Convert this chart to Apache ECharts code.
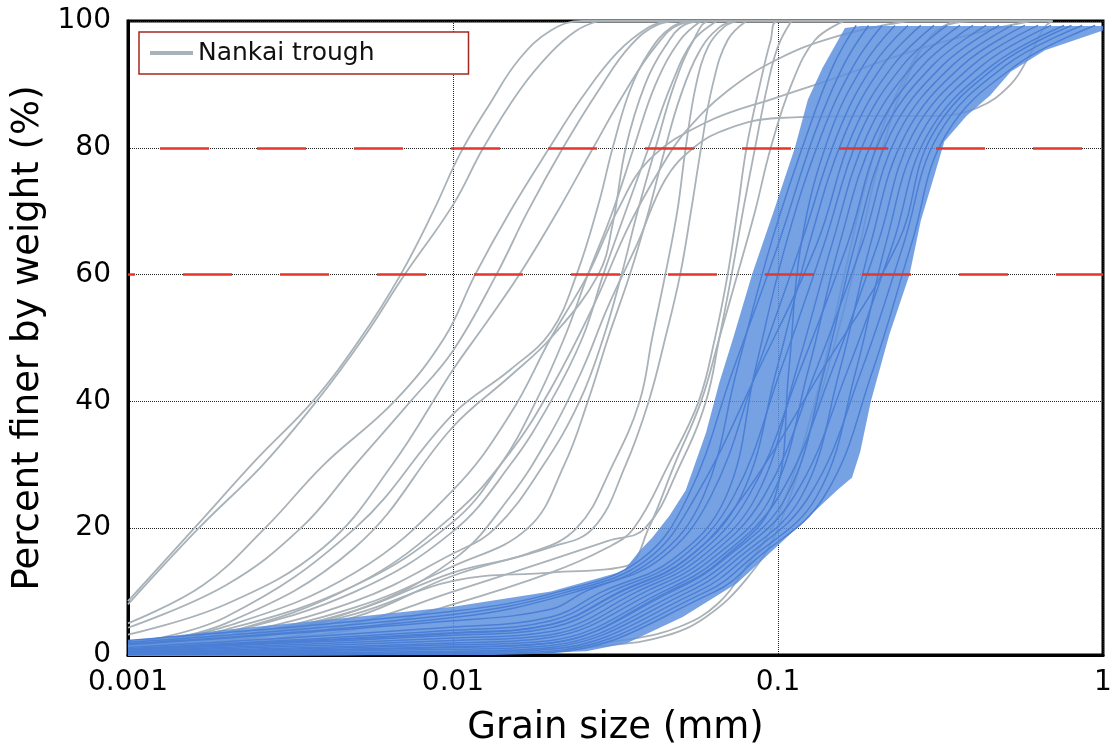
<!DOCTYPE html>
<html>
<head>
<meta charset="utf-8">
<script src="https://cdn.jsdelivr.net/npm/echarts@6/dist/echarts.min.js"></script>
<style>
  html, body { margin: 0; padding: 0; background: #ffffff; }
  #chart { width: 1113px; height: 753px; }
</style>
</head>
<body>
<div id="chart"></div>
<script>
// Grain size distribution curves: size (mm) vs percent finer by weight (%)

const xTickLabels = ['0.001', '0.01', '0.1', '1'];
const yTickLabels = ['0', '20', '40', '60', '80', '100'];
const referenceLevels = [80, 60];

// Nankai trough samples: [grain size mm, percent finer]
const nankai01 = [[0.001,8.5],[0.0016,20],[0.0025,31],[0.0037,40],[0.0052,50],[0.0069,60],[0.0087,70],[0.0105,79],[0.013,87],[0.016,94],[0.02,98.5],[0.025,100],[0.7,100]];
const nankai02 = [[0.001,8],[0.00165,20],[0.0026,30],[0.0038,40],[0.0053,50],[0.0071,60],[0.01,71],[0.0124,80],[0.016,89],[0.02,95],[0.024,98.5],[0.028,100]];
const nankai03 = [[0.001,5],[0.0017,11],[0.00264,20],[0.004,30],[0.0066,40],[0.0094,50],[0.0117,60],[0.015,70],[0.0198,80],[0.025,88],[0.032,95],[0.04,99],[0.046,100]];
const nankai04 = [[0.001,4.3],[0.002,11],[0.0034,20],[0.005,30],[0.0074,40],[0.01,48],[0.0136,60],[0.017,70],[0.0218,80],[0.028,89],[0.035,96],[0.043,99.5],[0.05,100]];
const nankai05 = [[0.001,3.2],[0.002,8],[0.004,17],[0.0065,30],[0.01,45],[0.0125,52],[0.016,60],[0.021,70],[0.027,80],[0.034,89],[0.042,96],[0.05,99.5],[0.06,100],[0.3,100]];
const nankai06 = [[0.001,1.8],[0.002,6],[0.005,20],[0.01,38],[0.015,45],[0.02,51],[0.024,60],[0.028,71],[0.031,80],[0.035,89],[0.04,95],[0.047,99],[0.055,100]];
const nankai07 = [[0.001,1.5],[0.002,5],[0.005,17],[0.01,36],[0.015,44],[0.02,50],[0.028,60],[0.031,68],[0.034,80],[0.039,90],[0.045,96],[0.052,99.5],[0.06,100]];
const nankai08 = [[0.001,1.2],[0.002,4],[0.005,11],[0.01,21],[0.014,30],[0.018,40],[0.022,50],[0.026,60],[0.031,70],[0.036,80],[0.042,90],[0.05,97],[0.058,100]];
const nankai09 = [[0.001,1],[0.002,3.5],[0.005,10],[0.01,19.5],[0.015,30],[0.02,40],[0.025,50],[0.029,60],[0.034,70],[0.04,80],[0.047,90],[0.055,97],[0.065,100]];
const nankai10 = [[0.001,0.9],[0.002,3],[0.005,8.5],[0.01,16],[0.0135,20],[0.019,30],[0.0245,40],[0.029,50],[0.033,60],[0.037,70],[0.042,80],[0.048,90],[0.055,97],[0.062,100],[0.15,100]];
const nankai11 = [[0.001,0.8],[0.002,2.7],[0.005,7.5],[0.01,14],[0.017,20],[0.022,30],[0.026,40],[0.03,50],[0.035,60],[0.04,70],[0.045,80],[0.05,88],[0.057,95],[0.066,99],[0.075,100]];
const nankai12 = [[0.001,0.7],[0.002,2.4],[0.005,7],[0.01,13],[0.017,16],[0.024,20],[0.031,30],[0.0375,40],[0.041,50],[0.045,60],[0.049,70],[0.052,80],[0.056,90],[0.061,96],[0.068,99],[0.075,100]];
const nankai13 = [[0.001,0.6],[0.002,2],[0.005,6.5],[0.01,11.7],[0.02,13],[0.034,14],[0.04,20],[0.048,30],[0.058,40],[0.066,50],[0.075,60],[0.085,70],[0.095,80],[0.11,90],[0.13,97],[0.16,100]];
const nankai14 = [[0.001,0.5],[0.002,2],[0.005,6],[0.01,12.5],[0.02,17],[0.027,20],[0.034,30],[0.04,40],[0.045,50],[0.05,60],[0.054,70],[0.058,80],[0.063,90],[0.07,97],[0.08,100]];
const nankai15 = [[0.001,0.4],[0.002,1.5],[0.005,5],[0.01,10],[0.02,15],[0.03,18],[0.039,20],[0.05,30],[0.06,40],[0.066,50],[0.072,60],[0.078,70],[0.085,80],[0.093,90],[0.1,96],[0.11,100]];
const nankai16 = [[0.001,0.3],[0.005,4],[0.01,8],[0.02,13],[0.03,17],[0.036,20],[0.046,30],[0.057,40],[0.064,50],[0.07,60],[0.075,70],[0.08,80],[0.088,90],[0.095,97],[0.1,100],[0.5,100]];
const nankai17 = [[0.001,1.4],[0.002,4.5],[0.005,13],[0.01,26],[0.015,38],[0.02,50],[0.026,60],[0.032,70],[0.04,78],[0.06,84],[0.1,88],[0.15,91],[0.25,95],[0.4,98],[0.6,100]];
const nankai18 = [[0.001,1],[0.002,3.5],[0.005,11],[0.01,22],[0.015,32],[0.02,42],[0.027,55],[0.035,68],[0.045,78],[0.052,82.6],[0.07,89],[0.1,94],[0.15,97.5],[0.25,100]];
const nankai19 = [[0.001,0.6],[0.002,2.2],[0.005,7],[0.01,15],[0.015,25],[0.02,35],[0.025,45],[0.03,55],[0.037,65],[0.045,75],[0.055,80],[0.07,83],[0.1,84.7],[0.2,85],[0.3,85],[0.41,86.3],[0.52,90],[0.6,95],[0.66,99],[0.7,100]];
const nankai20 = [[0.001,0],[0.01,0.3],[0.02,1],[0.035,2.5],[0.05,4.5],[0.065,8],[0.08,14],[0.1,22],[0.13,40],[0.16,60],[0.2,80],[0.25,92],[0.3,98],[0.35,100]];
const nankai21 = [[0.001,0],[0.005,0.3],[0.01,0.6],[0.02,1],[0.03,1.5],[0.045,3],[0.06,6],[0.08,12],[0.1,20],[0.13,38],[0.17,60],[0.21,80],[0.26,93],[0.32,99],[0.4,100]];

const nankaiCurves = [nankai01, nankai02, nankai03, nankai04, nankai05, nankai06, nankai07,
  nankai08, nankai09, nankai10, nankai11, nankai12, nankai13, nankai14, nankai15, nankai16,
  nankai17, nankai18, nankai19, nankai20, nankai21];

// Envelope of the comparison samples (shaded range), traced around the outline
const bandEnvelope = [
  [0.001,2.2],[0.002,4],[0.005,6],[0.01,7.6],[0.02,10],[0.0334,13.2],[0.0375,16.4],[0.041,18.5],
  [0.0464,22],[0.052,26],[0.06,35],[0.066,43],[0.0728,50],[0.0832,60],[0.097,70],[0.1127,80],
  [0.1236,87.6],[0.137,92.6],[0.1607,98.9],[0.18,99.2],[1,99.2],
  [1,98.5],[0.663,95.4],[0.52,92],[0.45,88.3],[0.38,85],[0.325,81],[0.303,75.7],[0.275,68.5],
  [0.254,60],[0.22,50.5],[0.193,40],[0.179,32],[0.169,28],[0.152,26],[0.114,20],[0.0962,16.5],
  [0.0748,11.3],[0.0509,6],[0.0344,1.9],[0.0257,0.6],[0.015,0.2],[0.001,0.2]
];

// Comparison sample curves drawn inside the shaded range
const sample01 = [[0.001,2.3],[0.01,6.9],[0.0212,10],[0.0377,15],[0.0528,25],[0.0728,45],[0.1005,65],[0.129,82],[0.159,93],[0.19,99.3]];
const sample02 = [[0.001,1.8],[0.01,5.9],[0.024,10],[0.0412,15],[0.0589,25],[0.0748,45],[0.0953,65],[0.1225,82],[0.148,93],[0.174,99.3]];
const sample03 = [[0.001,1.6],[0.01,5.4],[0.02,7.2],[0.0255,10],[0.0431,15],[0.0621,25],[0.0861,45],[0.118,65],[0.152,82],[0.196,93],[0.251,99.3]];
const sample04 = [[0.001,1.2],[0.01,4.4],[0.02,6.0],[0.0288,10],[0.0472,15],[0.0692,25],[0.0851,45],[0.106,65],[0.136,82],[0.171,93],[0.209,99.3]];
const sample05 = [[0.001,1.0],[0.01,3.9],[0.02,5.4],[0.0307,10],[0.0494,15],[0.073,25],[0.102,45],[0.139,65],[0.178,82],[0.242,93],[0.331,99.3]];
const sample06 = [[0.001,0.9],[0.01,3.5],[0.02,4.8],[0.0326,10],[0.0517,15],[0.0769,25],[0.099,45],[0.125,65],[0.16,82],[0.21,93],[0.275,99.3]];
const sample07 = [[0.001,0.75],[0.01,3.1],[0.02,4.3],[0.0347,10],[0.0541,15],[0.0811,25],[0.117,45],[0.164,65],[0.209,82],[0.299,93],[0.437,99.3]];
const sample08 = [[0.001,0.6],[0.01,2.7],[0.02,3.7],[0.0369,10],[0.0566,15],[0.0857,25],[0.114,45],[0.147,65],[0.188,82],[0.26,93],[0.363,99.3]];
const sample09 = [[0.001,0.5],[0.01,2.3],[0.02,3.2],[0.0392,10],[0.0593,15],[0.0904,25],[0.131,45],[0.182,65],[0.233,82],[0.344,93],[0.525,99.3]];
const sample10 = [[0.001,0.4],[0.01,1.9],[0.02,2.8],[0.0417,10],[0.062,15],[0.0953,25],[0.124,45],[0.155,65],[0.199,82],[0.279,93],[0.398,99.3]];
const sample11 = [[0.001,0.3],[0.01,1.6],[0.02,2.3],[0.0443,10],[0.0649,15],[0.1005,25],[0.147,45],[0.203,65],[0.259,82],[0.396,93],[0.631,99.3]];
const sample12 = [[0.001,0.25],[0.01,1.2],[0.02,1.9],[0.0471,10],[0.0679,15],[0.106,25],[0.139,45],[0.173,65],[0.221,82],[0.321,93],[0.479,99.3]];
const sample13 = [[0.001,0.2],[0.01,0.9],[0.02,1.5],[0.0501,10],[0.0711,15],[0.112,25],[0.164,45],[0.226,65],[0.288,82],[0.456,93],[0.759,99.3]];
const sample14 = [[0.001,0.15],[0.01,0.6],[0.02,1.2],[0.0532,10],[0.0743,15],[0.118,25],[0.155,45],[0.193,65],[0.246,82],[0.369,93],[0.575,99.3]];
const sample15 = [[0.001,0.1],[0.01,0.4],[0.02,0.9],[0.0566,10],[0.0778,15],[0.1245,25],[0.181,45],[0.244,65],[0.311,82],[0.502,93],[0.863,99.3]];
const sample16 = [[0.001,0.05],[0.01,0.2],[0.02,0.6],[0.0602,10],[0.0815,15],[0.1315,25],[0.174,45],[0.215,65],[0.274,82],[0.425,93],[0.692,99.3]];
const sample17 = [[0.001,0],[0.01,0.1],[0.02,0.4],[0.064,10],[0.0851,15],[0.1387,25],[0.196,45],[0.258,65],[0.328,82],[0.54,93],[0.946,99.3]];
const sample18 = [[0.001,2.0],[0.01,6.4],[0.0226,10],[0.0394,15],[0.0558,25],[0.0871,45],[0.132,65],[0.169,82],[0.226,93],[0.302,99.3]];
const sample19 = [[0.001,0.9],[0.01,3.4],[0.02,4.8],[0.033,10],[0.052,15],[0.078,25],[0.137,45],[0.234,65],[0.298,82],[0.475,93],[0.80,99.3]];
const sample20 = [[0.001,0.25],[0.01,1.3],[0.02,1.9],[0.046,10],[0.067,15],[0.098,25],[0.108,45],[0.118,65],[0.144,82],[0.183,93],[0.229,99.3]];

const sampleCurves = [sample01, sample02, sample03, sample04, sample05, sample06, sample07,
  sample08, sample09, sample10, sample11, sample12, sample13, sample14, sample15, sample16,
  sample17, sample18, sample19, sample20];

const FONT = 'DejaVu Sans, Liberation Sans, sans-serif';
const GRAY = '#a9b2b8';
const BLUE_LINE = '#4b7fd6';
const BAND_FILL = 'rgba(92,144,222,0.84)';
const RED = '#e2372a';

const chart = echarts.init(document.getElementById('chart'), null, { renderer: 'canvas' });

const series = [];

nankaiCurves.forEach(function (curve, i) {
  const s = {
    name: 'Nankai trough',
    type: 'line',
    data: curve,
    symbol: 'none',
    smooth: 0.4,
    z: 2,
    lineStyle: { color: GRAY, width: 1.8 },
    itemStyle: { color: GRAY },
    emphasis: { disabled: true }
  };
  if (i === 0) {
    s.markLine = {
      silent: true,
      symbol: 'none',
      animation: false,
      label: { show: false },
      data: [
        { yAxis: referenceLevels[0], lineStyle: { color: RED, width: 2.5, type: [49, 48], dashOffset: 65 } },
        { yAxis: referenceLevels[1], lineStyle: { color: RED, width: 2.5, type: [49, 48], dashOffset: 42 } }
      ]
    };
  }
  series.push(s);
});

series.push({
  name: 'range',
  type: 'custom',
  z: 3,
  silent: true,
  data: [[0.1, 50]],
  encode: { x: 0, y: 1 },
  renderItem: function (params, api) {
    const pts = bandEnvelope.map(function (p) { return api.coord(p); });
    return {
      type: 'polygon',
      shape: { points: pts },
      style: { fill: BAND_FILL, stroke: null }
    };
  }
});

sampleCurves.forEach(function (curve) {
  series.push({
    name: 'samples',
    type: 'line',
    data: curve,
    symbol: 'none',
    smooth: 0.4,
    z: 4,
    lineStyle: { color: BLUE_LINE, width: 1.5 },
    emphasis: { disabled: true }
  });
});

const option = {
  animation: false,
  backgroundColor: '#ffffff',
  grid: {
    left: 128, right: 10, top: 21, bottom: 98,
    containLabel: false, outerBoundsMode: 'none',
    show: true, borderColor: '#000000', borderWidth: 3, backgroundColor: '#ffffff'
  },
  legend: {
    data: [{ name: 'Nankai trough', icon: 'rect' }],
    left: 139, top: 32,
    orient: 'horizontal',
    padding: [7, 94, 7, 11],
    itemWidth: 43, itemHeight: 4, itemGap: 0,
    itemStyle: { color: GRAY },
    backgroundColor: '#ffffff',
    borderColor: '#a3291f', borderWidth: 1.5, borderRadius: 0,
    textStyle: { fontFamily: FONT, fontSize: 25, color: '#111111', padding: [0, 0, 0, 0], lineHeight: 28 },
    selectedMode: false
  },
  xAxis: {
    type: 'log', logBase: 10, min: 0.001, max: 1,
    name: 'Grain size (mm)', nameLocation: 'middle', nameGap: 55,
    nameTextStyle: { fontFamily: FONT, fontSize: 37, color: '#000000' },
    axisLine: { show: true, lineStyle: { color: '#000000', width: 3 } },
    axisTick: { show: false },
    axisLabel: {
      margin: 14, fontFamily: FONT, fontSize: 28, color: '#000000',
      formatter: function (v) { return xTickLabels[Math.round(Math.log10(v) + 3)]; }
    },
    splitLine: { show: true, lineStyle: { color: '#222222', width: 1, type: 'dotted' } }
  },
  yAxis: {
    type: 'value', min: 0, max: 100, interval: 20,
    name: 'Percent finer by weight (%)', nameLocation: 'middle', nameGap: 76, nameRotate: 90,
    nameTextStyle: { fontFamily: FONT, fontSize: 37, color: '#000000' },
    axisLine: { show: true, lineStyle: { color: '#000000', width: 3 } },
    axisTick: { show: false },
    axisLabel: {
      margin: 17, fontFamily: FONT, fontSize: 28, color: '#000000',
      formatter: function (v) { return yTickLabels[Math.round(v / 20)]; }
    },
    splitLine: { show: true, lineStyle: { color: '#222222', width: 1, type: 'dotted' } }
  },
  series: series
};

chart.setOption(option);
</script>
</body>
</html>
